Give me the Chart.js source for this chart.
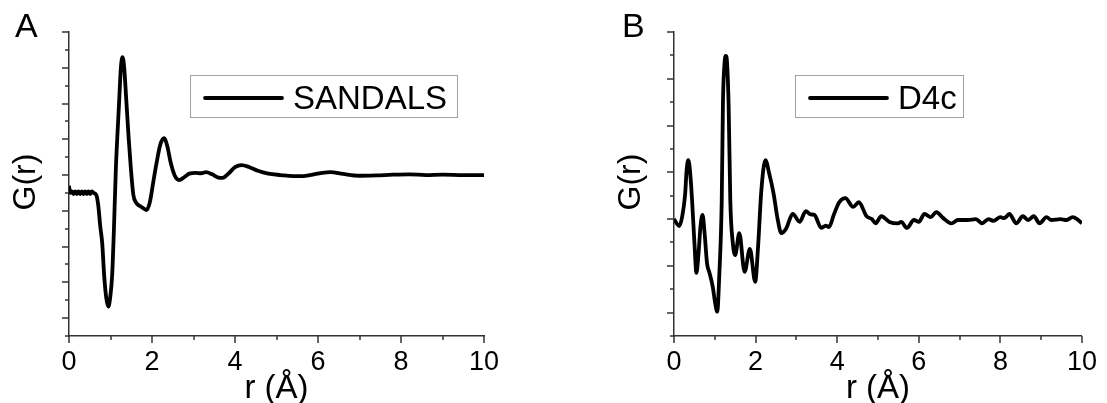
<!DOCTYPE html>
<html>
<head>
<meta charset="utf-8">
<script src="https://cdn.jsdelivr.net/npm/chart.js@4.4.1/dist/chart.umd.min.js"></script>
<style>
  html, body { margin: 0; padding: 0; background: #fff; }
  #wrap { position: relative; width: 1107px; height: 403px; overflow: hidden; }
  #wrap canvas { position: absolute; top: 0; }
  #chartA { left: 0; }
  #chartB { left: 553px; }
</style>
</head>
<body>
<div id="wrap">
  <canvas id="chartA" width="553" height="403"></canvas>
  <canvas id="chartB" width="554" height="403"></canvas>
</div>
<script>
// G(r) curves, r in Angstrom
const sandalsR = [0.00, 0.03, 0.07, 0.11, 0.15, 0.19, 0.23, 0.27, 0.31, 0.35, 0.39, 0.43, 0.47, 0.51, 0.55, 0.59,
  0.63, 0.67, 0.71, 0.75, 0.80, 0.85, 0.90, 0.95, 1.00, 1.04, 1.08, 1.13, 1.17, 1.21, 1.25, 1.29, 1.33, 1.38,
  1.44, 1.49, 1.55, 1.62, 1.70, 1.78, 1.87, 1.95, 2.03, 2.11, 2.20, 2.29, 2.37, 2.45, 2.55, 2.65, 2.78, 2.90,
  3.05, 3.18, 3.30, 3.45, 3.60, 3.70, 3.85, 4.00, 4.16, 4.35, 4.55, 4.80, 5.10, 5.40, 5.70, 6.00, 6.30, 6.60,
  7.00, 7.40, 7.80, 8.20, 8.60, 9.00, 9.50, 10.00];
const sandalsG = [-0.30, -0.50, -0.46, -0.53, -0.46, -0.53, -0.46, -0.53, -0.46, -0.53, -0.46, -0.53, -0.46, -0.53, -0.46, -0.50,
  -0.52, -0.60, -0.90, -1.40, -1.90, -2.85, -3.45, -3.68, -3.35, -2.80, -1.60, 0.20, 1.20, 2.10, 3.00, 3.30, 3.00, 2.10,
  1.00, 0.20, -0.55, -0.78, -0.86, -0.92, -0.98, -0.75, -0.20, 0.34, 0.85, 1.03, 0.80, 0.35, -0.02, -0.14, -0.06, 0.04,
  0.06, 0.05, 0.08, 0.02, -0.07, -0.08, 0.05, 0.22, 0.28, 0.22, 0.12, 0.04, 0.00, -0.03, -0.02, 0.04, 0.08, 0.03,
  -0.02, -0.01, 0.01, 0.02, 0.00, 0.01, 0.00, 0.00];

const d4cR = [0.00, 0.13, 0.20, 0.27, 0.31, 0.35, 0.39, 0.44, 0.50, 0.55, 0.60, 0.65, 0.70, 0.75, 0.81, 0.87,
  0.95, 1.01, 1.06, 1.11, 1.17, 1.20, 1.24, 1.27, 1.30, 1.34, 1.38, 1.44, 1.50, 1.60, 1.73, 1.86, 1.99, 2.06,
  2.14, 2.24, 2.34, 2.44, 2.54, 2.63, 2.75, 2.91, 3.08, 3.23, 3.35, 3.44, 3.61, 3.72, 3.80, 3.92, 4.05, 4.20,
  4.39, 4.53, 4.72, 4.85, 4.94, 5.08, 5.28, 5.49, 5.57, 5.71, 5.88, 6.00, 6.14, 6.29, 6.43, 6.60, 6.80, 6.96,
  7.20, 7.40, 7.55, 7.71, 7.83, 8.00, 8.10, 8.22, 8.39, 8.55, 8.68, 8.82, 8.96, 9.13, 9.25, 9.47, 9.62, 9.77,
  9.88, 10.00];
const d4cG = [0.00, -0.15, 0.05, 0.50, 1.05, 1.26, 1.05, 0.45, -0.50, -1.15, -0.75, -0.15, 0.09, -0.30, -0.95, -1.15,
  -1.45, -1.80, -1.98, -1.20, 0.40, 2.50, 3.35, 3.49, 3.35, 2.40, 0.40, -0.50, -0.77, -0.30, -1.13, -0.64, -1.34, -0.60,
  0.60, 1.26, 0.95, 0.55, 0.00, -0.30, -0.20, 0.11, -0.06, 0.17, 0.10, 0.09, -0.19, -0.14, -0.17, 0.10, 0.36, 0.45,
  0.26, 0.36, 0.06, 0.00, -0.09, 0.06, -0.06, -0.09, -0.06, -0.19, -0.02, -0.06, 0.11, 0.04, 0.15, 0.02, -0.09, -0.02,
  -0.02, 0.00, -0.09, 0.00, -0.04, 0.04, 0.02, 0.11, -0.09, 0.06, -0.02, 0.06, -0.09, 0.04, -0.02, 0.00, -0.02, 0.04,
  0.00, -0.09];

const xTickLabels = [0, 2, 4, 6, 8, 10];
const xTitle = 'r (Å)';
const yTitle = 'G(r)';

const FONT = '"Liberation Sans", Arial, Helvetica, sans-serif';
const AXIS_COLOR = '#333';

// ticks, panel letter, axis titles and the boxed legend
const panelDeco = {
  id: 'panelDeco',
  afterDraw(chart, args, o) {
    const { ctx, chartArea: a, scales: { x, y } } = chart;
    ctx.save();
    ctx.strokeStyle = AXIS_COLOR;
    ctx.lineWidth = 1.5;
    y.ticks.forEach(t => {
      const py = Math.round(y.getPixelForValue(t.value));
      const len = Number.isInteger(t.value) ? 7 : 4;
      ctx.beginPath();
      ctx.moveTo(a.left - len, py);
      ctx.lineTo(a.left, py);
      ctx.stroke();
    });
    x.ticks.forEach(t => {
      const px = Math.round(x.getPixelForValue(t.value));
      const len = xTickLabels.includes(t.value) ? 7 : 4;
      ctx.beginPath();
      ctx.moveTo(px, a.bottom);
      ctx.lineTo(px, a.bottom + len);
      ctx.stroke();
    });

    ctx.fillStyle = '#000';
    ctx.textBaseline = 'alphabetic';
    ctx.textAlign = 'left';
    ctx.font = '34px ' + FONT;
    ctx.fillText(o.letter, o.letterX, 37);

    ctx.font = '32px ' + FONT;
    ctx.save();
    ctx.translate(o.yTitleX, (a.top + a.bottom) / 2 - 2);
    ctx.rotate(-Math.PI / 2);
    ctx.textAlign = 'center';
    ctx.fillText(yTitle, 0, 0);
    ctx.restore();

    ctx.font = '33px ' + FONT;
    ctx.textAlign = 'center';
    ctx.fillText(xTitle, (a.left + a.right) / 2, 398);

    // legend
    const lg = o.legend;
    ctx.strokeStyle = '#a0a0a0';
    ctx.lineWidth = 1;
    ctx.strokeRect(lg.x + 0.5, lg.y + 0.5, lg.w, lg.h);
    const ds = chart.data.datasets[0];
    ctx.strokeStyle = ds.borderColor;
    ctx.lineWidth = ds.borderWidth;
    ctx.lineCap = 'round';
    ctx.beginPath();
    ctx.moveTo(lg.x + 15, lg.y + 23);
    ctx.lineTo(lg.x + 92, lg.y + 23);
    ctx.stroke();
    ctx.textAlign = 'left';
    ctx.font = '33px ' + FONT;
    ctx.fillText(ds.label, lg.x + 103, lg.y + 34);
    ctx.restore();
  }
};

function makePanel(id, label, rs, gs, yMin, yMax, area, deco) {
  const canvas = document.getElementById(id);
  return new Chart(canvas, {
    type: 'line',
    data: {
      datasets: [{
        label: label,
        data: rs.map((r, i) => ({ x: r, y: gs[i] })),
        borderColor: '#000',
        borderWidth: 3.8,
        pointRadius: 0,
        cubicInterpolationMode: 'monotone',
        fill: false
      }]
    },
    options: {
      responsive: false,
      animation: false,
      events: [],
      layout: { padding: { left: 0, top: area.top, right: canvas.width - area.right, bottom: 0 } },
      scales: {
        x: {
          type: 'linear',
          min: 0,
          max: 10,
          afterFit: s => { s.height = canvas.height - area.bottom; },
          grid: { display: false, drawTicks: false },
          border: { display: true, color: AXIS_COLOR, width: 1.5 },
          ticks: {
            stepSize: 1,
            autoSkip: false,
            maxRotation: 0,
            padding: 10,
            color: '#000',
            font: { family: FONT, size: 27 },
            callback: v => xTickLabels.includes(v) ? String(v) : ''
          }
        },
        y: {
          min: yMin,
          max: yMax,
          afterFit: s => { s.width = area.left; },
          grid: { display: false, drawTicks: false },
          border: { display: true, color: AXIS_COLOR, width: 1.5 },
          ticks: { stepSize: 0.5, display: false }
        }
      },
      plugins: {
        legend: { display: false },
        tooltip: { enabled: false },
        panelDeco: deco
      }
    },
    plugins: [panelDeco]
  });
}

makePanel('chartA', 'SANDALS', sandalsR, sandalsG, -4.5, 4,
  { left: 69, right: 484, top: 32, bottom: 336 },
  { letter: 'A', letterX: 15, yTitleX: 35, legend: { x: 190, y: 75, w: 267, h: 42 } });

makePanel('chartB', 'D4c', d4cR, d4cG, -2.5, 4,
  { left: 121, right: 536, top: 32, bottom: 336 },
  { letter: 'B', letterX: 69, yTitleX: 87, legend: { x: 242, y: 75, w: 168, h: 42 } });
</script>
</body>
</html>
